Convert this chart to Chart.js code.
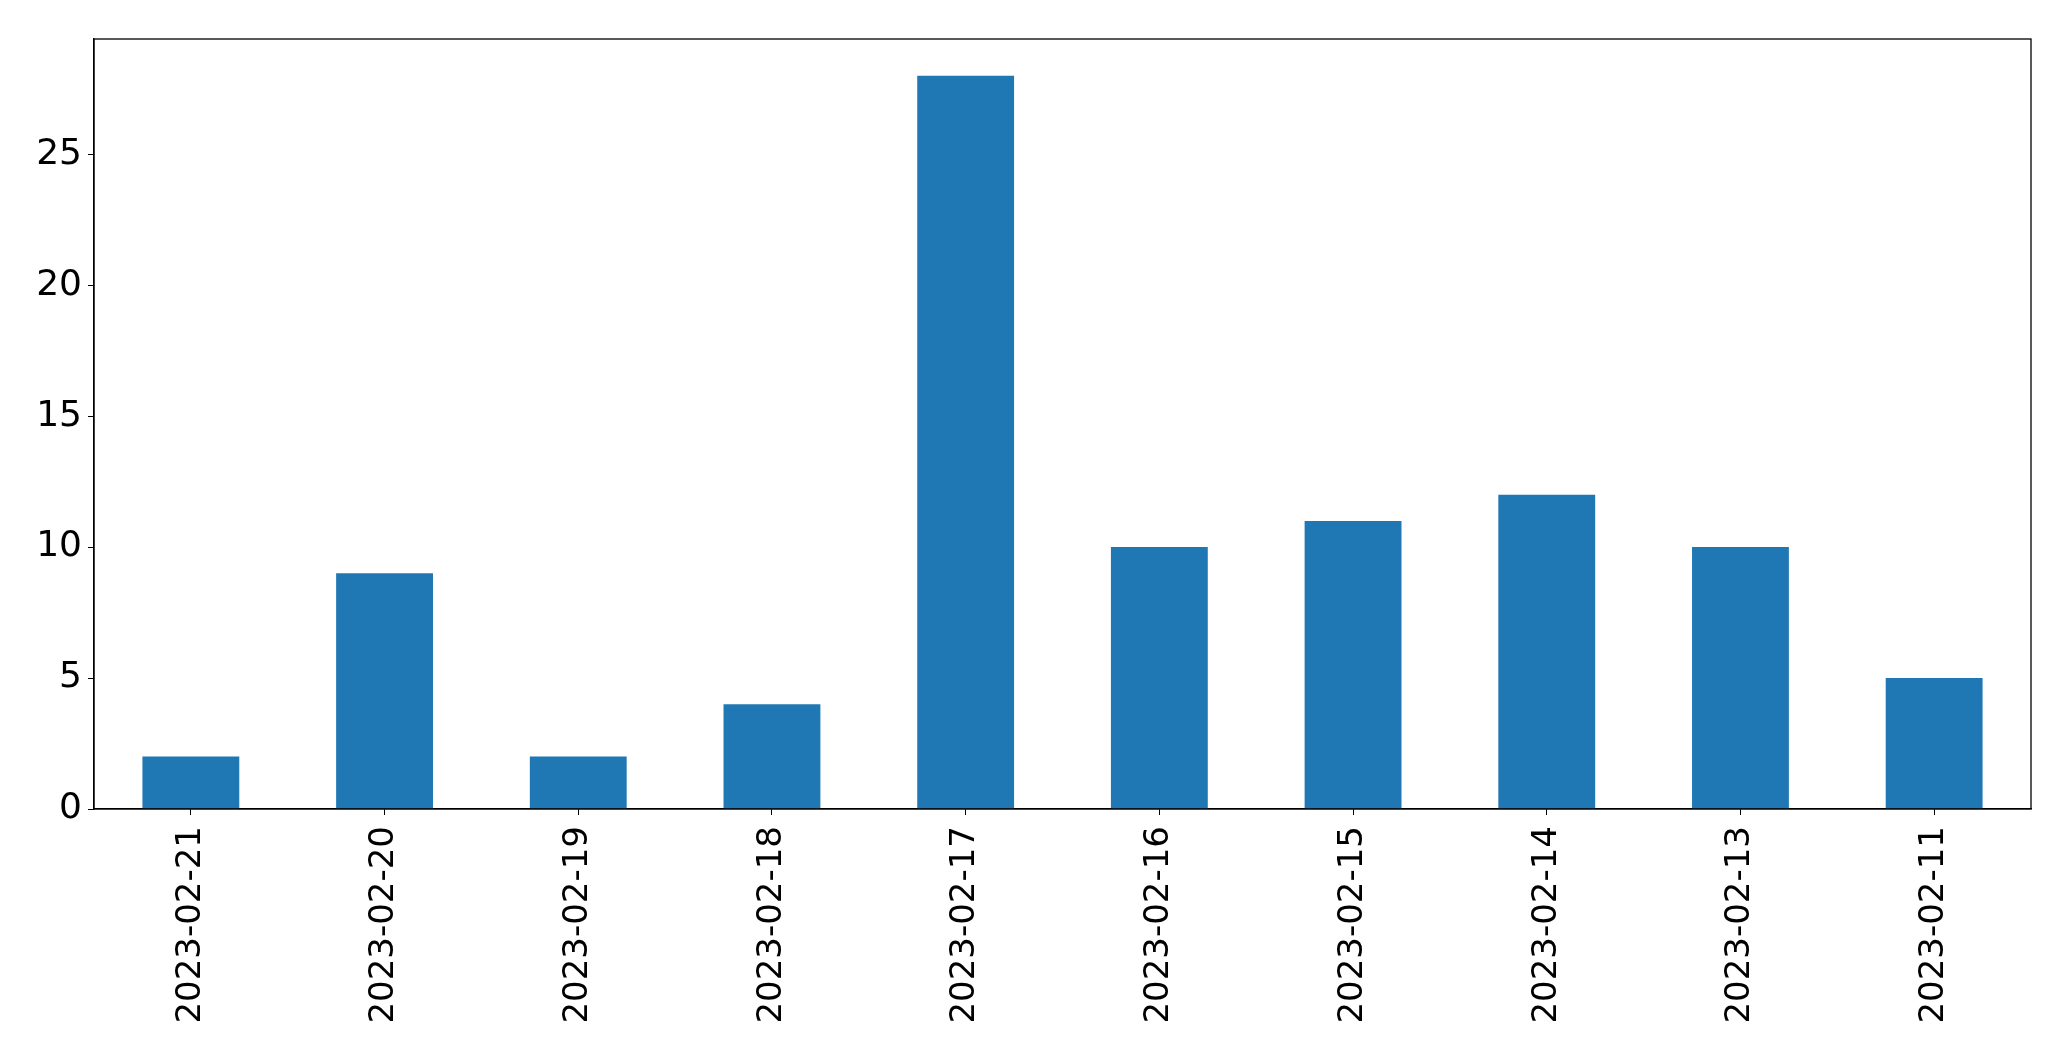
<!DOCTYPE html>
<html>
<head>
<meta charset="utf-8">
<script src="https://cdn.jsdelivr.net/npm/chart.js@4/dist/chart.umd.min.js"></script>
<style>
  html, body { margin: 0; padding: 0; background: #fff; }
  #wrap { width: 2071px; height: 1061px; position: relative; }
</style>
</head>
<body>
<div id="wrap"><canvas id="chart"></canvas></div>
<script>
const dates = ['2023-02-21', '2023-02-20', '2023-02-19', '2023-02-18', '2023-02-17',
  '2023-02-16', '2023-02-15', '2023-02-14', '2023-02-13', '2023-02-11'];
const counts = [2, 9, 2, 4, 28, 10, 11, 12, 10, 5];
const yTicks = [0, 5, 10, 15, 20, 25];

// draws the box round the plot area (top and right sides too)
const frame = {
  id: 'frame',
  afterDraw(chart) {
    const { ctx, chartArea: a } = chart;
    ctx.save();
    ctx.strokeStyle = '#000';
    ctx.lineWidth = 1.3;
    ctx.strokeRect(a.left, a.top, a.right - a.left, a.bottom - a.top);
    ctx.restore();
  }
};

new Chart(document.getElementById('chart'), {
  type: 'bar',
  data: {
    labels: dates,
    datasets: [{
      data: counts,
      backgroundColor: '#1f77b4',
      borderWidth: 0,
      categoryPercentage: 1,
      barPercentage: 0.5
    }]
  },
  options: {
    responsive: true,
    maintainAspectRatio: false,
    animation: false,
    layout: { padding: { top: 39, right: 40, left: 0, bottom: 0 } },
    plugins: { legend: { display: false }, tooltip: { enabled: false } },
    scales: {
      x: {
        offset: true,
        grid: { display: true, drawOnChartArea: false, drawTicks: true, tickLength: 6, color: '#000', offset: false },
        border: { display: true, color: '#000', width: 1.3 },
        ticks: { color: '#000', font: { family: 'DejaVu Sans', size: 34 }, minRotation: 90, maxRotation: 90, padding: 11, autoSkip: false },
        afterFit(scale) { scale.height = 252; }
      },
      y: {
        min: 0,
        max: 29.4,
        grid: { display: true, drawOnChartArea: false, drawTicks: true, tickLength: 6, color: '#000' },
        border: { display: true, color: '#000', width: 1.3 },
        ticks: { color: '#000', font: { family: 'DejaVu Sans', size: 36 }, padding: 6 },
        afterBuildTicks(scale) { scale.ticks = yTicks.map(v => ({ value: v })); },
        afterFit(scale) { scale.width = 94; }
      }
    }
  },
  plugins: [frame]
});
</script>
</body>
</html>
